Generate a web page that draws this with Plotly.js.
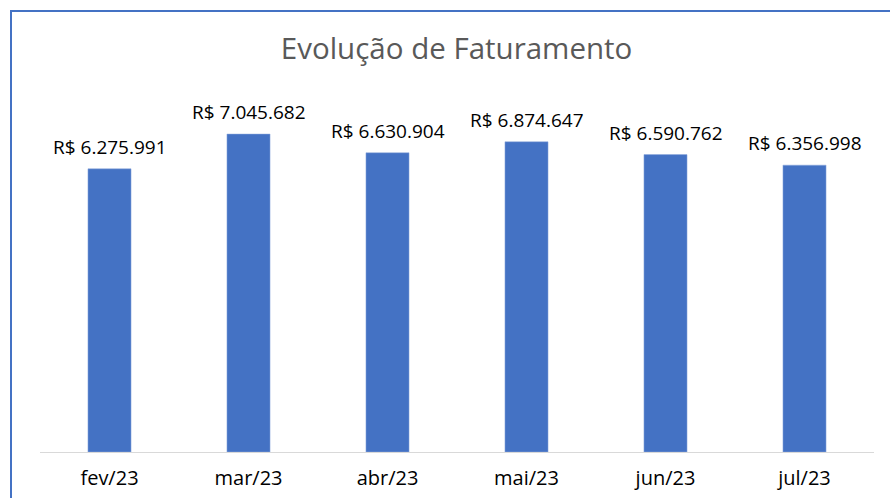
<!DOCTYPE html>
<html>
<head>
<meta charset="utf-8">
<script src="https://cdn.plot.ly/plotly-3.0.1.min.js"></script>
<style>html,body{margin:0;padding:0;background:#fff;}</style>
</head>
<body>
<div id="chart" style="width:890px;height:498px;"></div>
<script>
const categories = ["fev/23", "mar/23", "abr/23", "mai/23", "jun/23", "jul/23"];
const faturamento = [6275991, 7045682, 6630904, 6874647, 6590762, 6356998];
const titleText = "Evolução de Faturamento";

const W = 890, H = 498;
const M = {l: 40, r: 16, t: 91, b: 46};
const pw = W - M.l - M.r, ph = H - M.t - M.b;
const px = x => (x - M.l) / pw;
const py = y => (H - M.b - y) / ph;
const frameColor = "#4472C4";
const fmt = v => "R$ " + String(v).replace(/\B(?=(\d{3})+(?!\d))/g, ".");

const trace = {
  type: "bar",
  x: categories,
  y: faturamento,
  marker: {color: "#4472C4", line: {color: "#8FAADC", width: 0.5}},
  hoverinfo: "none"
};

const labels = categories.map((c, i) => ({
  x: c, y: faturamento[i], xref: "x", yref: "y",
  text: fmt(faturamento[i]), showarrow: false,
  xanchor: "center", yanchor: "bottom", yshift: 7,
  font: {family: "Open Sans, sans-serif", size: 19, color: "#000"}
}));

const layout = {
  width: W, height: H,
  margin: M,
  paper_bgcolor: "#fff",
  plot_bgcolor: "#fff",
  bargap: 0.69,
  showlegend: false,
  title: {
    text: titleText,
    font: {family: "Open Sans, sans-serif", size: 29.5, color: "#595959"},
    x: 0.513, xanchor: "center", y: 0.903, yanchor: "middle"
  },
  xaxis: {
    type: "category",
    showline: true, linecolor: "#D9D9D9", linewidth: 1,
    showgrid: false, zeroline: false, ticks: "",
    tickfont: {family: "Open Sans, sans-serif", size: 20, color: "#000"},
    ticklabelstandoff: 8
  },
  yaxis: {
    range: [0, 8000000], visible: false, showgrid: false, zeroline: false, fixedrange: true
  },
  annotations: labels,
  shapes: [
    {type: "line", xref: "paper", yref: "paper", x0: px(11), x1: px(11), y0: py(10), y1: py(H + 5),
     line: {color: frameColor, width: 2}},
    {type: "line", xref: "paper", yref: "paper", x0: px(10), x1: px(W + 5), y0: py(11), y1: py(11),
     line: {color: frameColor, width: 2}}
  ]
};

Plotly.newPlot("chart", [trace], layout, {displayModeBar: false, staticPlot: true});
</script>
</body>
</html>
